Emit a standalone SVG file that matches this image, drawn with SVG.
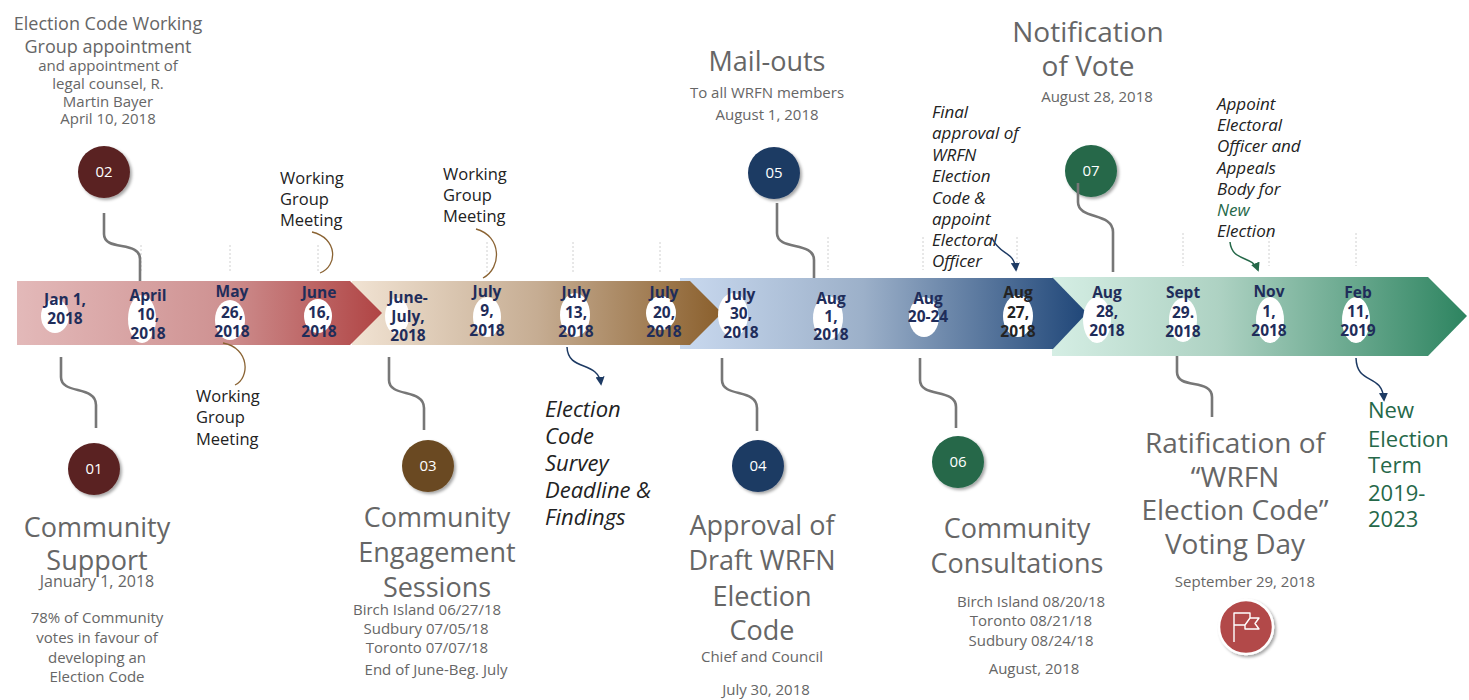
<svg xmlns="http://www.w3.org/2000/svg" width="1469" height="700" viewBox="0 0 1469 700">
<defs>
<linearGradient id="gRed" gradientUnits="userSpaceOnUse" x1="17" y1="0" x2="382" y2="0"><stop offset="0" stop-color="#e3b9b9"/><stop offset="0.55" stop-color="#cf9393"/><stop offset="1" stop-color="#b04444"/></linearGradient>
<linearGradient id="gBrn" gradientUnits="userSpaceOnUse" x1="352" y1="0" x2="722" y2="0"><stop offset="0" stop-color="#f1e3d3"/><stop offset="0.5" stop-color="#c6ad93"/><stop offset="1" stop-color="#8a5f2c"/></linearGradient>
<linearGradient id="gBlu" gradientUnits="userSpaceOnUse" x1="680" y1="0" x2="1087" y2="0"><stop offset="0" stop-color="#c9d9ef"/><stop offset="0.45" stop-color="#9cb0c9"/><stop offset="1" stop-color="#1f4678"/></linearGradient>
<linearGradient id="gGrn" gradientUnits="userSpaceOnUse" x1="1052" y1="0" x2="1467" y2="0"><stop offset="0" stop-color="#d5eee4"/><stop offset="0.4" stop-color="#aed2c3"/><stop offset="1" stop-color="#2d8460"/></linearGradient>
<filter id="sh" x="-30%" y="-30%" width="170%" height="170%"><feDropShadow dx="2" dy="2" stdDeviation="1.8" flood-color="#000" flood-opacity="0.35"/></filter>
<marker id="mNavy" viewBox="0 0 10 10" refX="8" refY="5" markerWidth="9" markerHeight="9" markerUnits="userSpaceOnUse" orient="auto"><path d="M0,0 L10,5 L0,10 z" fill="#1d3a63"/></marker>
<marker id="mGrn" viewBox="0 0 10 10" refX="8" refY="5" markerWidth="9" markerHeight="9" markerUnits="userSpaceOnUse" orient="auto"><path d="M0,0 L10,5 L0,10 z" fill="#256849"/></marker>
</defs>
<style>
text{font-family:"Open Sans","Noto Sans","Liberation Sans",sans-serif}
.hd{font-size:27px;fill:#666;text-anchor:middle}
.sub{font-size:15px;fill:#666;text-anchor:middle}
.dt{font-size:15.5px;font-weight:700;fill:#1f2d5a;text-anchor:middle}
.wg{font-size:16.5px;fill:#222}
.it{font-size:17px;font-style:italic;fill:#222}
.num{font-size:15px;fill:#fff;text-anchor:middle}
.tick{stroke:#d0d0d0;stroke-width:1;stroke-dasharray:2 2;fill:none}
.con{stroke:#777;stroke-width:2.6;fill:none}
.arc{stroke:#8a6333;stroke-width:1.3;fill:none}
.arN{stroke:#1d3a63;stroke-width:1.5;fill:none;marker-end:url(#mNavy)}
.arG{stroke:#256849;stroke-width:1.5;fill:none;marker-end:url(#mGrn)}
.ell{fill:#fff}
</style>
<rect width="1469" height="700" fill="#fff"/>

<g id="band">
<path d="M1052,277 H1428 L1467,316 L1428,356 H1052 Z" fill="url(#gGrn)"/>
<path d="M680,278 H1053 L1087,313 L1053,349 H680 Z" fill="url(#gBlu)"/>
<path d="M352,281 H690 L722,313 L690,345 H352 Z" fill="url(#gBrn)"/>
<path d="M17,281 H350 L382,313 L350,345 H17 Z" fill="url(#gRed)"/>
</g>

<g id="ticks">
<path class="tick" d="M141,245 V273 M230,245 V273 M318,245 V273 M487,242 V272 M573,242 V272 M660,242 V272 M828,237 V270 M923,237 V270 M1017,237 V270 M1183,233 V266 M1269,233 V266 M1356,233 V266"/>
</g>

<g id="dates">
<ellipse class="ell" cx="55" cy="316" rx="14" ry="17"/>
<ellipse class="ell" cx="142" cy="319" rx="14" ry="24"/>
<ellipse class="ell" cx="230" cy="320" rx="15" ry="20"/>
<ellipse class="ell" cx="318" cy="316" rx="14" ry="17"/>
<ellipse class="ell" cx="397" cy="316" rx="12" ry="18"/>
<ellipse class="ell" cx="487" cy="317" rx="14" ry="20"/>
<ellipse class="ell" cx="575" cy="315" rx="15" ry="22"/>
<ellipse class="ell" cx="661" cy="313" rx="15" ry="17"/>
<ellipse class="ell" cx="733" cy="315" rx="15" ry="22"/>
<ellipse class="ell" cx="828" cy="318" rx="15" ry="22"/>
<ellipse class="ell" cx="924" cy="317" rx="15" ry="20"/>
<ellipse class="ell" cx="1018" cy="316" rx="15" ry="21"/>
<ellipse class="ell" cx="1097" cy="320" rx="14" ry="23"/>
<ellipse class="ell" cx="1183" cy="320" rx="14" ry="22"/>
<ellipse class="ell" cx="1270" cy="320" rx="14" ry="23"/>
<ellipse class="ell" cx="1356" cy="320" rx="14" ry="23"/>
<text class="dt" x="65" y="305">Jan 1,</text><text class="dt" x="65" y="324">2018</text>
<text class="dt" x="148" y="301">April</text><text class="dt" x="148" y="320">10,</text><text class="dt" x="148" y="339">2018</text>
<text class="dt" x="232" y="297">May</text><text class="dt" x="232" y="318">26,</text><text class="dt" x="232" y="337">2018</text>
<text class="dt" x="319" y="298">June</text><text class="dt" x="319" y="318">16,</text><text class="dt" x="319" y="337">2018</text>
<text class="dt" x="408" y="303">June-</text><text class="dt" x="408" y="322">July,</text><text class="dt" x="408" y="341">2018</text>
<text class="dt" x="487" y="297">July</text><text class="dt" x="487" y="316">9,</text><text class="dt" x="487" y="336">2018</text>
<text class="dt" x="576" y="298">July</text><text class="dt" x="576" y="318">13,</text><text class="dt" x="576" y="337">2018</text>
<text class="dt" x="664" y="298">July</text><text class="dt" x="664" y="318">20,</text><text class="dt" x="664" y="337">2018</text>
<text class="dt" x="741" y="300">July</text><text class="dt" x="741" y="319">30,</text><text class="dt" x="741" y="338">2018</text>
<text class="dt" x="831" y="304">Aug</text><text class="dt" x="831" y="322">1,</text><text class="dt" x="831" y="340">2018</text>
<text class="dt" x="928" y="304">Aug</text><text class="dt" x="928" y="322">20-24</text>
<text class="dt" x="1018" y="298" style="fill:#232323">Aug</text><text class="dt" x="1018" y="318" style="fill:#232323">27,</text><text class="dt" x="1018" y="337" style="fill:#232323">2018</text>
<text class="dt" x="1107" y="298">Aug</text><text class="dt" x="1107" y="317">28,</text><text class="dt" x="1107" y="336">2018</text>
<text class="dt" x="1183" y="298">Sept</text><text class="dt" x="1183" y="318">29.</text><text class="dt" x="1183" y="337">2018</text>
<text class="dt" x="1269" y="297">Nov</text><text class="dt" x="1269" y="317">1,</text><text class="dt" x="1269" y="336">2018</text>
<text class="dt" x="1358" y="298">Feb</text><text class="dt" x="1358" y="317">11,</text><text class="dt" x="1358" y="336">2019</text>
</g>

<g id="node-01">
<circle cx="94" cy="469" r="26" fill="#5a2424" filter="url(#sh)"/>
<text class="num" x="94" y="474">01</text>
<text class="hd" x="97" y="537">Community</text>
<text class="hd" x="97" y="570">Support</text>
<text class="sub" x="97" y="587" style="font-size:16px">January 1, 2018</text>
<text class="sub" x="97" y="623">78% of Community</text>
<text class="sub" x="97" y="643">votes in favour of</text>
<text class="sub" x="97" y="663">developing an</text>
<text class="sub" x="97" y="682">Election Code</text>
</g>

<g id="node-02">
<circle cx="104" cy="172" r="26" fill="#5a2424" filter="url(#sh)"/>
<text class="num" x="104" y="177">02</text>
<text class="hd" x="108" y="30" style="font-size:18px">Election Code Working</text>
<text class="hd" x="108" y="53" style="font-size:18px">Group appointment</text>
<text class="sub" x="108" y="71">and appointment of</text>
<text class="sub" x="108" y="89">legal counsel, R.</text>
<text class="sub" x="108" y="107">Martin Bayer</text>
<text class="sub" x="108" y="124">April 10, 2018</text>
</g>

<g id="node-03">
<circle cx="428" cy="466" r="26" fill="#6a4a22" filter="url(#sh)"/>
<text class="num" x="428" y="471">03</text>
<text class="hd" x="437" y="527">Community</text>
<text class="hd" x="437" y="562">Engagement</text>
<text class="hd" x="437" y="597">Sessions</text>
<text class="sub" x="427" y="615">Birch Island 06/27/18</text>
<text class="sub" x="426" y="634">Sudbury 07/05/18</text>
<text class="sub" x="427" y="653">Toronto 07/07/18</text>
<text class="sub" x="436" y="675">End of June-Beg. July</text>
</g>

<g id="node-04">
<circle cx="758" cy="466" r="26" fill="#1d3a63" filter="url(#sh)"/>
<text class="num" x="758" y="471">04</text>
<text class="hd" x="762" y="535">Approval of</text>
<text class="hd" x="762" y="570">Draft WRFN</text>
<text class="hd" x="762" y="606">Election</text>
<text class="hd" x="762" y="640">Code</text>
<text class="sub" x="762" y="662">Chief and Council</text>
<text class="sub" x="766" y="695">July 30, 2018</text>
</g>

<g id="node-05">
<circle cx="774" cy="173" r="26" fill="#1d3a63" filter="url(#sh)"/>
<text class="num" x="774" y="178">05</text>
<text class="hd" x="767" y="71">Mail-outs</text>
<text class="sub" x="767" y="98">To all WRFN members</text>
<text class="sub" x="767" y="120">August 1, 2018</text>
</g>

<g id="node-06">
<circle cx="958" cy="462" r="26" fill="#256849" filter="url(#sh)"/>
<text class="num" x="958" y="467">06</text>
<text class="hd" x="1017" y="538">Community</text>
<text class="hd" x="1017" y="573">Consultations</text>
<text class="sub" x="1031" y="607">Birch Island 08/20/18</text>
<text class="sub" x="1031" y="626">Toronto 08/21/18</text>
<text class="sub" x="1031" y="646">Sudbury 08/24/18</text>
<text class="sub" x="1034" y="674">August, 2018</text>
</g>

<g id="node-07">
<circle cx="1091" cy="171" r="26" fill="#256849" filter="url(#sh)"/>
<text class="num" x="1091" y="176">07</text>
<text class="hd" x="1088" y="42" style="font-size:28px">Notification</text>
<text class="hd" x="1088" y="76" style="font-size:28px">of Vote</text>
<text class="sub" x="1097" y="102">August 28, 2018</text>
</g>

<g id="node-ratification">
<text class="hd" x="1235" y="453" style="font-size:28px">Ratification of</text>
<text class="hd" x="1235" y="487" style="font-size:28px">“WRFN</text>
<text class="hd" x="1235" y="520" style="font-size:28px">Election Code”</text>
<text class="hd" x="1235" y="554" style="font-size:28px">Voting Day</text>
<text class="sub" x="1245" y="587">September 29, 2018</text>
<circle cx="1246" cy="627" r="27" fill="#b24848" stroke="#fff" stroke-width="2.5" filter="url(#sh)"/>
<path d="M1234,642 V613 H1250 V618 H1259 L1255,623.5 L1259,629 H1245 V625 H1234 M1245,625 L1250,618" fill="none" stroke="#fff" stroke-width="1.4" stroke-linejoin="round"/>
</g>

<g id="node-wg1">
<text class="wg" x="280" y="184">Working</text>
<text class="wg" x="280" y="205">Group</text>
<text class="wg" x="280" y="226">Meeting</text>
</g>
<g id="node-wg2">
<text class="wg" x="443" y="180">Working</text>
<text class="wg" x="443" y="201">Group</text>
<text class="wg" x="443" y="222">Meeting</text>
</g>
<g id="node-wg3">
<text class="wg" x="196" y="402">Working</text>
<text class="wg" x="196" y="423">Group</text>
<text class="wg" x="196" y="445">Meeting</text>
</g>

<g id="node-survey">
<text class="it" x="545" y="417" style="font-size:22px">Election</text>
<text class="it" x="545" y="444" style="font-size:22px">Code</text>
<text class="it" x="545" y="471" style="font-size:22px">Survey</text>
<text class="it" x="545" y="498" style="font-size:22px">Deadline &amp;</text>
<text class="it" x="545" y="525" style="font-size:22px">Findings</text>
</g>

<g id="node-final-approval">
<text class="it" x="932" y="118">Final</text>
<text class="it" x="932" y="139">approval of</text>
<text class="it" x="932" y="161">WRFN</text>
<text class="it" x="932" y="182">Election</text>
<text class="it" x="932" y="204">Code &amp;</text>
<text class="it" x="932" y="225">appoint</text>
<text class="it" x="932" y="246">Electoral</text>
<text class="it" x="932" y="267">Officer</text>
</g>

<g id="node-appoint">
<text class="it" x="1217" y="110">Appoint</text>
<text class="it" x="1217" y="131">Electoral</text>
<text class="it" x="1217" y="152">Officer and</text>
<text class="it" x="1217" y="174">Appeals</text>
<text class="it" x="1217" y="195">Body for</text>
<text class="it" x="1217" y="216" style="fill:#256849">New</text>
<text class="it" x="1217" y="237">Election</text>
</g>

<g id="node-new-term">
<text x="1368" y="418" style="font-size:22px;fill:#256849">New</text>
<text x="1368" y="447" style="font-size:22px;fill:#256849">Election</text>
<text x="1368" y="473" style="font-size:22px;fill:#256849">Term</text>
<text x="1368" y="501" style="font-size:22px;fill:#256849">2019-</text>
<text x="1368" y="527" style="font-size:22px;fill:#256849">2023</text>
</g>

<g id="connectors">
<path class="con" d="M104,213 V234 C104,252 140,240 140,259 V281"/>
<path class="con" d="M61,357 V377 C61,395 96,385 96,405 V428"/>
<path class="con" d="M389,357 V380 C389,398 424,388 424,408 V430"/>
<path class="con" d="M722,358 V380 C722,398 757,388 757,408 V431"/>
<path class="con" d="M920,358 V380 C920,398 956,388 956,407 V428"/>
<path class="con" d="M1177,356 V372 C1177,390 1212,378 1212,397 V417"/>
<path class="con" d="M777,203 V233 C777,251 814,241 814,260 V278"/>
<path class="con" d="M1078,183 V202 C1078,220 1113,212 1113,232 V272"/>
<path class="arc" d="M312,232 C338,238 338,266 320,273"/>
<path class="arc" d="M223,343 C250,348 250,378 235,385"/>
<path class="arc" d="M476,229 C502,236 502,268 483,278"/>
<path class="arN" d="M567,347 C568,372 598,360 601,384"/>
<path class="arN" d="M992,238 C1000,256 1014,250 1016,270"/>
<path class="arG" d="M1230,242 C1232,262 1252,255 1258,270"/>
<path class="arN" d="M1356,358 C1357,386 1382,372 1384,400"/>
</g>
</svg>
